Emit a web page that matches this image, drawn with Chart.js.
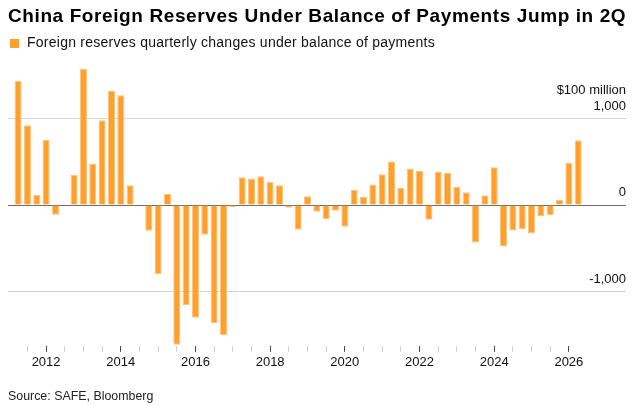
<!DOCTYPE html>
<html>
<head>
<meta charset="utf-8">
<script src="https://cdn.jsdelivr.net/npm/chart.js@4"></script>
<style>
  body { margin: 0; background: #fff; font-family: "Liberation Sans", Arial, sans-serif; }
  #wrap { position: relative; width: 636px; height: 406px; overflow: hidden; }
  #title { position: absolute; left: 8px; top: 6px; font-size: 19px; line-height: 19px; letter-spacing: 0.6px; font-weight: bold; color: #000; white-space: nowrap; }
  #legend { position: absolute; left: 10px; top: 35px; font-size: 14px; line-height: 14px; color: #111; white-space: nowrap; }
  #legend span.box { position: absolute; left: 0; top: 4px; width: 9px; height: 9px; background: #ffa02e; }
  #legend span.txt { position: absolute; left: 17px; top: 0; letter-spacing: 0.25px; }
  #source { position: absolute; left: 8px; top: 390px; font-size: 12.4px; line-height: 12px; color: #222; white-space: nowrap; }
  #chartBox { position: absolute; left: 0; top: 0; width: 636px; height: 406px; }
</style>
</head>
<body>
<div id="wrap">
  <div id="chartBox"><canvas id="chart"></canvas></div>
  <div id="title">China Foreign Reserves Under Balance of Payments Jump in 2Q</div>
  <div id="legend"><span class="box"></span><span class="txt">Foreign reserves quarterly changes under balance of payments</span></div>
  <div id="source">Source: SAFE, Bloomberg</div>
</div>
<script>
//-------------------Data-------------------
const quarters = [
  '2011Q2','2011Q3','2011Q4',
  '2012Q1','2012Q2','2012Q3','2012Q4',
  '2013Q1','2013Q2','2013Q3','2013Q4',
  '2014Q1','2014Q2','2014Q3','2014Q4',
  '2015Q1','2015Q2','2015Q3','2015Q4',
  '2016Q1','2016Q2','2016Q3','2016Q4',
  '2017Q1','2017Q2','2017Q3','2017Q4',
  '2018Q1','2018Q2','2018Q3','2018Q4',
  '2019Q1','2019Q2','2019Q3','2019Q4',
  '2020Q1','2020Q2','2020Q3','2020Q4',
  '2021Q1','2021Q2','2021Q3','2021Q4',
  '2022Q1','2022Q2','2022Q3','2022Q4',
  '2023Q1','2023Q2','2023Q3','2023Q4',
  '2024Q1','2024Q2','2024Q3','2024Q4',
  '2025Q1','2025Q2','2025Q3','2025Q4',
  '2026Q1','2026Q2'
];

// $100 million
const reserveChanges = [
  1431, 919, 115,
  750, -112, -5, 346,
  1569, 473, 977, 1312,
  1262, 227, 2, -296,
  -796, 127, -1608, -1154,
  -1296, -342, -1358, -1500,
  -23, 319, 304, 331,
  265, 227, -31, -285,
  100, -77, -162, -65,
  -250, 177, 92, 235,
  354, 500, 196, 419,
  392, -169, 385, 369,
  208, 146, -431, 112,
  435, -477, -292, -277,
  -327, -127, -119, 58,
  485, 746
];

const xLabelYears = [2012, 2014, 2016, 2018, 2020, 2022, 2024, 2026];
const yTickValues = [-1000, 0, 1000];
const yTickLabels = { '-1000': '-1,000', '0': '0', '1000': '1,000' };
const yUnitLabel = '$100 million';

//-------------------Functions-------------------
function quarterToX(q) { //'2011Q2' -> 2011.25 (bar sits at quarter start)
  const year = parseInt(q.slice(0, 4));
  const qn = parseInt(q.slice(5));
  return year + (qn - 1) / 4;
}

function buildPoints() {
  const pts = [];
  for (let i = 0; i < quarters.length; i++) {
    pts.push({ x: quarterToX(quarters[i]), y: reserveChanges[i] });
  }
  return pts;
}

function halfYearTicks() {
  const t = [];
  for (let v = 2011.5; v <= 2026; v += 0.5) {
    t.push({ value: v });
  }
  return t;
}

//-------------------Chart-------------------
const ctx = document.getElementById('chart').getContext('2d');
Chart.defaults.font.family = '"Liberation Sans", Arial, sans-serif';
Chart.defaults.color = '#111';

const chart = new Chart(ctx, {
  type: 'bar',
  data: {
    datasets: [{
      data: buildPoints(),
      backgroundColor: '#ffa02e',
      borderColor: '#ffc47c',
      borderWidth: 1,
      barPercentage: 0.76,
      categoryPercentage: 1
    }]
  },
  options: {
    responsive: true,
    maintainAspectRatio: false,
    animation: false,
    layout: { padding: { left: 8, right: 10, top: 66, bottom: 32.6 } },
    plugins: { legend: { display: false }, tooltip: { enabled: false } },
    scales: {
      x: {
        type: 'linear',
        min: 2010.98,
        max: 2027.53,
        offset: false,
        border: { display: false },
        grid: {
          offset: false,
          drawOnChartArea: false,
          drawTicks: true,
          tickLength: 6,
          color: (c) => xLabelYears.includes(c.tick.value) ? '#444' : '#d0d0d0'
        },
        afterBuildTicks: (axis) => { axis.ticks = halfYearTicks(); },
        ticks: {
          autoSkip: false,
          maxRotation: 0,
          padding: 3,
          font: { size: 13 },
          color: '#111',
          callback: (v) => xLabelYears.includes(v) ? String(v) : ''
        }
      },
      y: {
        position: 'right',
        min: -1620,
        max: 1600,
        border: { display: false },
        grid: {
          drawTicks: false,
          lineWidth: 1,
          color: (c) => c.tick.value === 0 ? '#6e6e6e' : '#d6d6d6'
        },
        afterBuildTicks: (axis) => { axis.ticks = yTickValues.map(v => ({ value: v })); },
        ticks: {
          mirror: true,
          padding: 0,
          labelOffset: -20,
          font: { size: 13 },
          color: '#111',
          callback: (v) => v === 1000 ? [yUnitLabel, yTickLabels[String(v)]] : ['', yTickLabels[String(v)]]
        }
      }
    }
  }
});
</script>
</body>
</html>
